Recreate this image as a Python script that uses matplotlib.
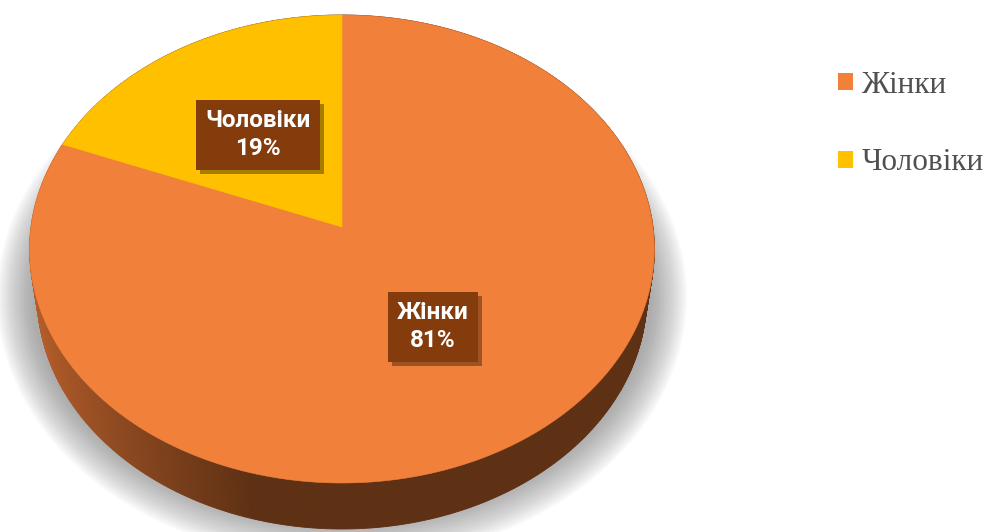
import numpy as np
import matplotlib.pyplot as plt
import matplotlib.patheffects as pe
from matplotlib.patches import Polygon, Ellipse, Patch
from matplotlib.colors import to_rgb

labels = ["Жінки", "Чоловіки"]
shares = [81, 19]
colors = ["#F0803A", "#FFC000"]

# camera for the tilted pie (pixels)
cx, cy = 342, 227
sin_t, cos_t = 0.7458, 0.6662
dist, focal = 7.087, 2204
thick = 0.2376


def proj(theta, r=1.0, w=0.0):
    # theta in degrees, counterclockwise from 12 o'clock, on a unit disk
    t = np.radians(theta)
    u = -r * np.sin(t)
    v = r * np.cos(t)
    yc = v * sin_t + w * cos_t
    zc = dist + v * cos_t - w * sin_t
    return cx + focal * u / zc, cy - focal * yc / zc


fig = plt.figure(figsize=(9.9, 5.32), dpi=100)
ax = fig.add_axes([0, 0, 1, 1])
ax.set_xlim(0, 990)
ax.set_ylim(532, 0)
ax.axis("off")

# soft shadow under the pie
for i in range(26):
    k = i / 25
    ax.add_patch(Ellipse((cx, cy + 70), 2 * (345 - 36 * k), 2 * (265 - 40 * k),
                         fc="#7a7a7a", ec="none", alpha=0.03, zorder=0))

# slice angles: Чоловіки from 12 o'clock counterclockwise, Жінки fills the rest
total = sum(shares)
span = {lab: 360 * val / total for lab, val in zip(labels, shares)}
starts = {"Чоловіки": 0.0, "Жінки": span["Чоловіки"]}
ends = {"Чоловіки": span["Чоловіки"], "Жінки": 360.0}

# side wall
dark = np.array(to_rgb("#5E3014"))
light = np.array(to_rgb("#B85F2B"))
angles = np.linspace(0, 360, 721)
for a0, a1 in zip(angles[:-1], angles[1:]):
    x0, y0 = proj(a0)
    x1, y1 = proj(a1)
    x2, y2 = proj(a1, w=-thick)
    x3, y3 = proj(a0, w=-thick)
    f = np.clip((min(x0, x3) - 32) / 220, 0, 1) ** 0.8
    c = light * (1 - f) + dark * f
    ax.add_patch(Polygon([(x0, y0), (x1, y1), (x2, y2), (x3, y3)],
                         closed=True, fc=c, ec=c, lw=0.6, zorder=1))

# top face
for lab, col in zip(labels, colors):
    th = np.linspace(starts[lab], ends[lab], 400)
    xs, ys = proj(th)
    verts = [(cx, cy)] + list(zip(xs, ys))
    ax.add_patch(Polygon(verts, closed=True, fc=col, ec=col, lw=0.4, zorder=2))

# data labels
for lab, val in zip(labels, shares):
    mid = (starts[lab] + ends[lab]) / 2
    x, y = proj(mid, 0.5)
    t = ax.text(x, y, f"{lab}\n{val}%", ha="center", va="center", color="white",
                fontsize=17.5, fontweight="bold", family="Roboto", linespacing=1.3,
                zorder=5,
                bbox=dict(boxstyle="square,pad=0.38", fc="#843C0C", ec="none"))
    t.get_bbox_patch().set_path_effects(
        [pe.SimplePatchShadow(offset=(3, -3), shadow_rgbFace="k", alpha=0.35), pe.Normal()])

handles = [Patch(fc=c, ec="none") for c in colors]
leg = fig.legend(handles, labels, loc="upper left", bbox_to_anchor=(838 / 990, 1 - 71 / 532),
                 frameon=False, labelspacing=1.55, handlelength=0.47,
                 handleheight=0.47, handletextpad=0.27, borderpad=0, borderaxespad=0,
                 prop={"family": "Liberation Serif", "size": 22.5})
for txt in leg.get_texts():
    txt.set_color("#505050")

fig.savefig("out.png", dpi=100)
